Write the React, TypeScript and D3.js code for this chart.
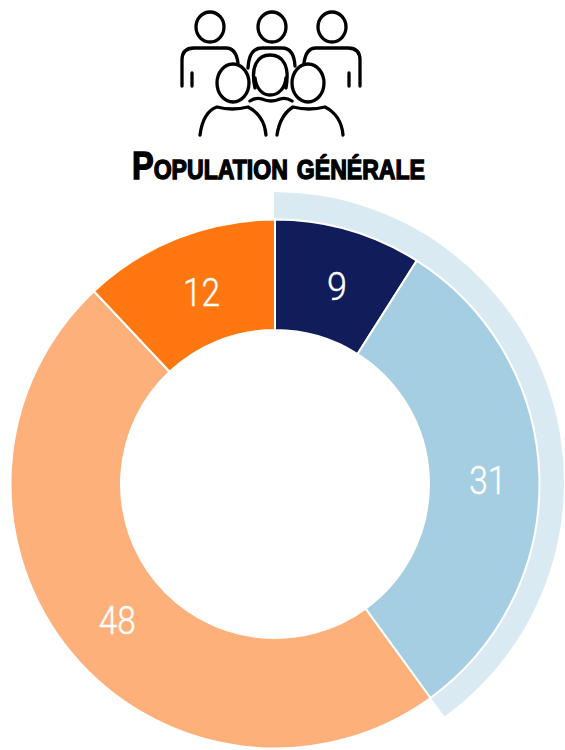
import React from "react";
import * as d3 from "d3";

const categories = ["a", "b", "c", "d"];
const values = [9, 31, 48, 12];
const colors = ["#111c5a", "#a6cee3", "#feb07a", "#ff7711"];
const highlightShare = [40];
const title = "Population générale";

const W = 565, H = 750, cx = 275, cy = 484;
const R = 264.5, r0 = 154;

export default function App() {
  const pie = d3.pie<number>().sort(null)(values);
  const arc = d3.arc<any>().innerRadius(r0).outerRadius(R);
  const outer = d3.arc<any>().innerRadius(262).outerRadius(290);
  const end = d3.scaleLinear().domain([0, 100]).range([0, 2 * Math.PI])(highlightShare[0]);
  const stroke = { fill: "none", stroke: "#000", strokeWidth: 3.3, strokeLinecap: "round" as const, strokeLinejoin: "round" as const };
  return (
    <svg width={W} height={H} style={{ position: "fixed", left: 0, top: 0, background: "#fff" }}>
      <path d={outer({ startAngle: 0, endAngle: end }) as string} transform={`translate(${cx - 1},${cy - 2})`} fill="#daeaf3" />
      <g transform={`translate(${cx},${cy})`}>
        {pie.map((d, i) => (
          <path key={categories[i]} d={arc(d) as string} fill={colors[i]} stroke="#fff" strokeWidth={2} />
        ))}
        {pie.map((d, i) => {
          const [x, y] = arc.centroid(d);
          return (
            <text key={categories[i]} x={x + 3.5} y={y + 2.5} dy="0.36em" textAnchor="middle" fill="#fff" stroke="#fff" strokeWidth={0.4}
              style={{ fontFamily: "Roboto, sans-serif", fontWeight: 300, fontSize: 39 }} textLength={d.data < 10 ? 20 : 37} lengthAdjust="spacingAndGlyphs">
              {d.data}
            </text>
          );
        })}
      </g>
      <g {...stroke}>
        <ellipse cx={210} cy={27} rx={14} ry={15} />
        <ellipse cx={272} cy={27} rx={14} ry={15} />
        <ellipse cx={332} cy={27} rx={14} ry={15} />
        <path d="M182,86V60Q182,48 194,48H226Q236,48 238,63" />
        <path d="M192,73V86" />
        <path d="M360,86V60Q360,48 348,48H316Q306,48 304,63" />
        <path d="M349,73V86" />
        <path d="M248,68Q249,48 262,48H282Q294,48 295,66" />
        <ellipse cx={233} cy={83} rx={16} ry={19} fill="#fff" />
        <ellipse cx={308} cy={83} rx={16} ry={19} fill="#fff" />
        <path d="M255,88C250,66 258,55 270,55C283,55 290,66 286,88" />
        <path d="M255,78C256,88 262,95 270,95C279,95 285,88 286,78" />
        <path d="M250,101Q256,97 262,99Q271,103 280,99Q286,97 292,101" />
        <path d="M200,135C202,120 208,110 217,107Q232,111 248,107C258,112 265,122 266,135" />
        <path d="M277,135C279,122 285,112 293,107Q309,111 325,107C335,112 342,122 343,135" />
      </g>
      <text x={278.5} y={178.5} textAnchor="middle" textLength={293} lengthAdjust="spacingAndGlyphs" stroke="#000" strokeWidth={1.4}
        style={{ fontFamily: "'Liberation Sans Narrow', 'Liberation Sans', sans-serif", fontWeight: 700, fontSize: 38, fontVariant: "small-caps" }}>
        {title}
      </text>
    </svg>
  );
}
